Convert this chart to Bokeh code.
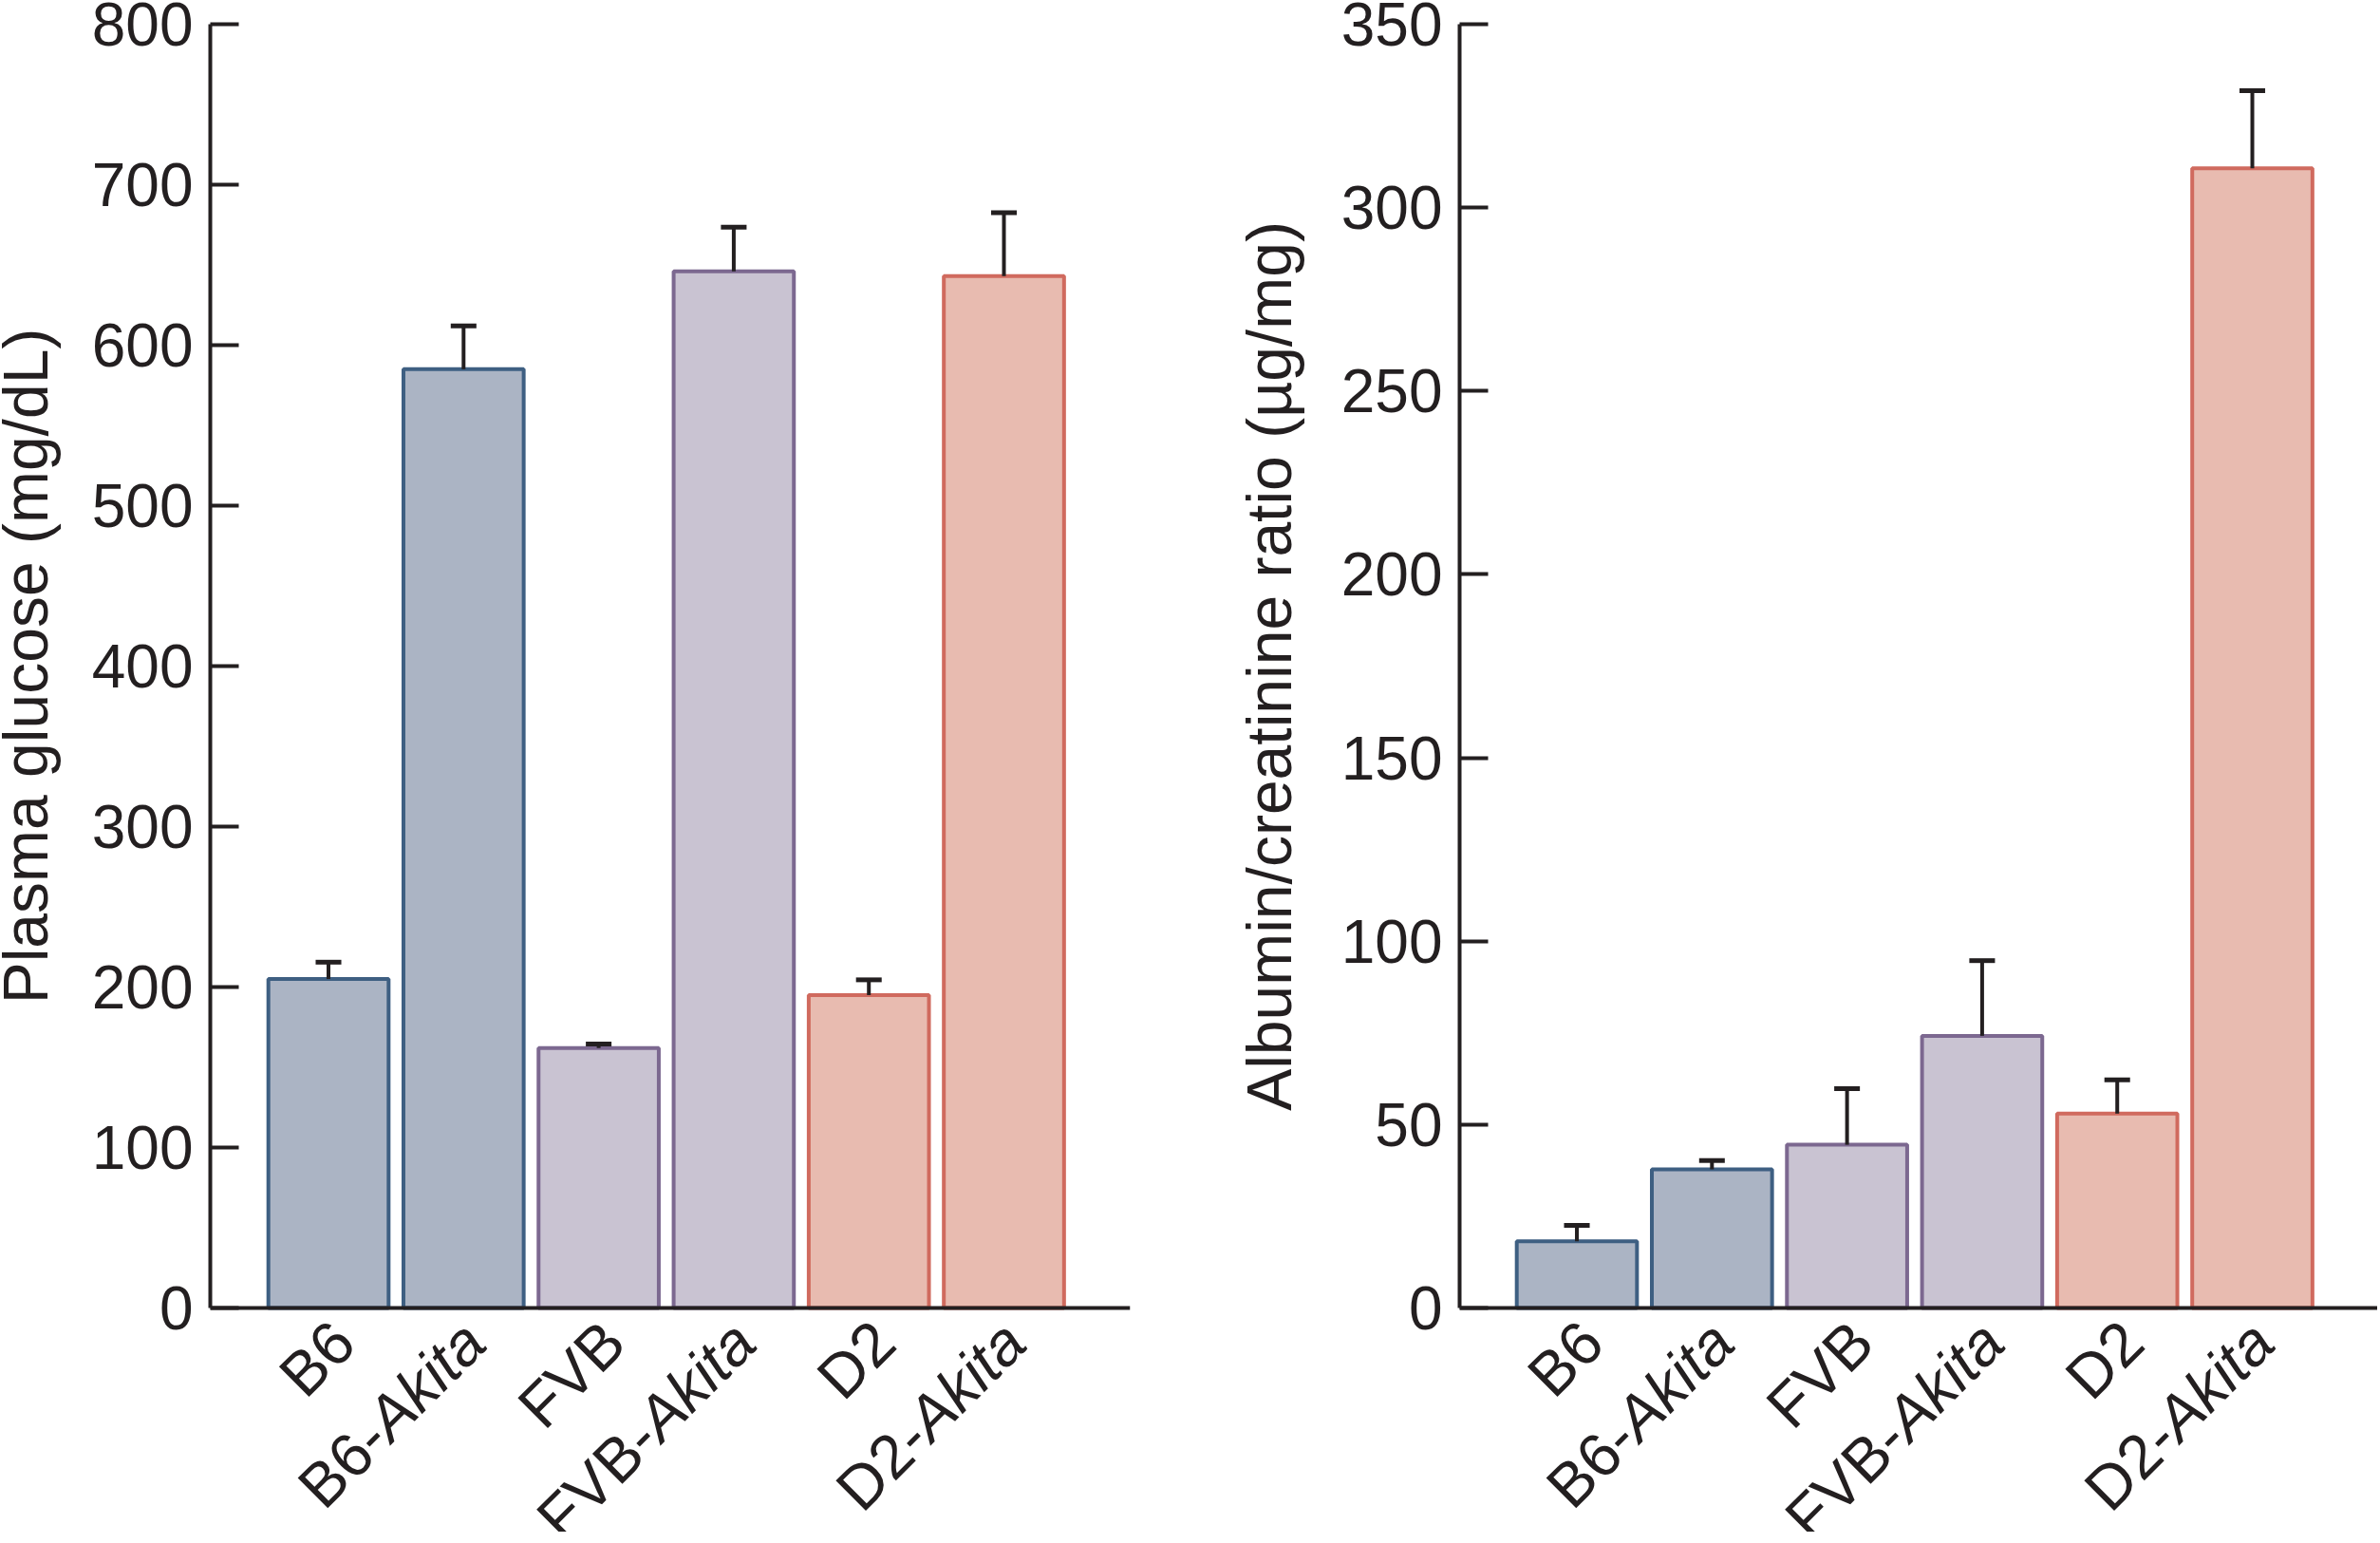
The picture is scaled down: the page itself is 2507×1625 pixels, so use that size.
from bokeh.plotting import figure
from bokeh.models import Range1d, FixedTicker, ColumnDataSource
from bokeh.core.properties import value
from bokeh.layouts import row
from bokeh.embed import file_html
from bokeh.resources import INLINE

# ---------------- data ----------------
categories = ["B6", "B6-Akita", "FVB", "FVB-Akita", "D2", "D2-Akita"]
glucose = [205, 585, 162, 646, 195, 643]
glucose_err = [10.5, 27, 2.5, 27.5, 9.5, 39.5]
acr = [18.2, 37.8, 44.5, 74.2, 53.0, 310.7]
acr_err = [4.3, 2.4, 15.3, 20.5, 9.2, 21.2]
glucose_ticks = [0, 100, 200, 300, 400, 500, 600, 700, 800]
acr_ticks = [0, 50, 100, 150, 200, 250, 300, 350]
glucose_label = "Plasma glucose (mg/dL)"
acr_label = "Albumin/creatinine ratio (\u00b5g/mg)"

# ---------------- style ----------------
fills = ["#abb4c4", "#abb4c4", "#c9c3d2", "#c9c3d2", "#e8bbb0", "#e8bbb0"]
edges = ["#3e5f82", "#3e5f82", "#7c6890", "#7c6890", "#d06a5e", "#d06a5e"]
INK = "#231f20"
FONT = "Liberation Sans"
PX_PER_X = 142.3
PLOT_H = 1352      # pixels from 0 to the top tick
LABEL_H = 236      # pixels below the x axis kept for category labels
TOP = 25
XFONT = 65


def ylabel_fig(text, width, anchor_x):
    f = figure(frame_width=width, frame_height=PLOT_H,
               x_range=Range1d(0, width), y_range=Range1d(0, PLOT_H),
               output_backend="svg", toolbar_location=None,
               x_axis_location=None, y_axis_location=None,
               min_border_left=0, min_border_right=0, min_border_top=TOP, min_border_bottom=0)
    f.outline_line_color = None
    f.grid.visible = False
    f.text(x=[anchor_x], y=[PLOT_H / 2], text=[text], angle=90, angle_units="deg",
           text_align="center", text_baseline="alphabetic", text_font=value(FONT),
           text_font_size="66px", text_color=INK)
    return f


def panel(values, errs, ticks, border_left, frame_w, border_right, x_start):
    x_end = x_start + frame_w / PX_PER_X
    y_max = ticks[-1]
    ppu = PLOT_H / y_max
    p = figure(frame_width=frame_w, frame_height=PLOT_H + LABEL_H,
               x_range=Range1d(x_start, x_end),
               y_range=Range1d(-LABEL_H / ppu, y_max),
               output_backend="svg", toolbar_location=None,
               min_border_left=border_left, min_border_right=border_right,
               min_border_top=TOP, min_border_bottom=0)
    p.outline_line_color = None
    p.grid.visible = False
    p.background_fill_color = "white"
    p.border_fill_color = "white"

    xs = list(range(len(categories)))
    src = ColumnDataSource(dict(x=xs, top=values, fill=fills, edge=edges,
                                etop=[v + e for v, e in zip(values, errs)],
                                cl=[x - 0.095 for x in xs], cr=[x + 0.095 for x in xs]))
    p.vbar(x="x", top="top", bottom=0, width=0.89, fill_color="fill",
           line_color="edge", line_width=4, source=src)
    p.segment(x0="x", y0="top", x1="x", y1="etop", line_color=INK, line_width=4, source=src)
    p.segment(x0="cl", y0="etop", x1="cr", y1="etop", line_color=INK, line_width=5, source=src)

    # y axis (line limited to the data range)
    ya = p.yaxis[0]
    ya.ticker = FixedTicker(ticks=ticks)
    ya.bounds = (0, y_max)
    ya.minor_tick_line_color = None
    ya.major_tick_in = 30
    ya.major_tick_out = 0
    ya.major_tick_line_width = 4
    ya.major_tick_line_color = INK
    ya.axis_line_width = 4
    ya.axis_line_color = INK
    ya.major_label_text_font = FONT
    ya.major_label_text_font_size = "64px"
    ya.major_label_text_color = INK
    ya.major_label_standoff = 18

    # x axis (line only), drawn at y = 0
    xa = p.xaxis[0]
    xa.fixed_location = 0
    xa.ticker = FixedTicker(ticks=[])
    xa.minor_tick_line_color = None
    xa.major_tick_line_color = None
    xa.major_label_text_font_size = "0px"
    xa.axis_line_width = 4
    xa.axis_line_color = INK

    # rotated category labels, "Akita" in italics
    w = 2.223 * XFONT * 0.7071          # advance of the italic part along the 45 deg baseline
    end_y = -25 / ppu
    plain_x, plain_y, plain_t = [], [], []
    ital_x, ital_y, ital_t = [], [], []
    for i, cat in zip(xs, categories):
        cx = i + 14 / PX_PER_X
        if "-" in cat:
            pre, ital = cat.split("-", 1)
            ital_x.append(cx - 3 / PX_PER_X); ital_y.append(end_y); ital_t.append(ital)
            plain_x.append(cx - 3 / PX_PER_X - w / PX_PER_X); plain_y.append(end_y - w / ppu)
            plain_t.append(pre + "-")
        else:
            plain_x.append(cx + 2 / PX_PER_X); plain_y.append(end_y); plain_t.append(cat)
    common = dict(angle=45, angle_units="deg", text_align="right", text_baseline="alphabetic",
                  text_font=value(FONT), text_font_size=f"{XFONT}px", text_color=INK)
    p.text(x=plain_x, y=plain_y, text=plain_t, **common)
    p.text(x=ital_x, y=ital_y, text=ital_t, text_font_style="italic", **common)
    return p


l1 = ylabel_fig(glucose_label, 70, 26)
p1 = panel(glucose, glucose_err, glucose_ticks, 151, 969, 110, -0.875)
l2 = ylabel_fig(acr_label, 80, 36)
p2 = panel(acr, acr_err, acr_ticks, 157, 967, 0, -0.868)

layout = row(l1, p1, l2, p2, spacing=0)
open("out.html", "w").write(file_html(layout, INLINE))
